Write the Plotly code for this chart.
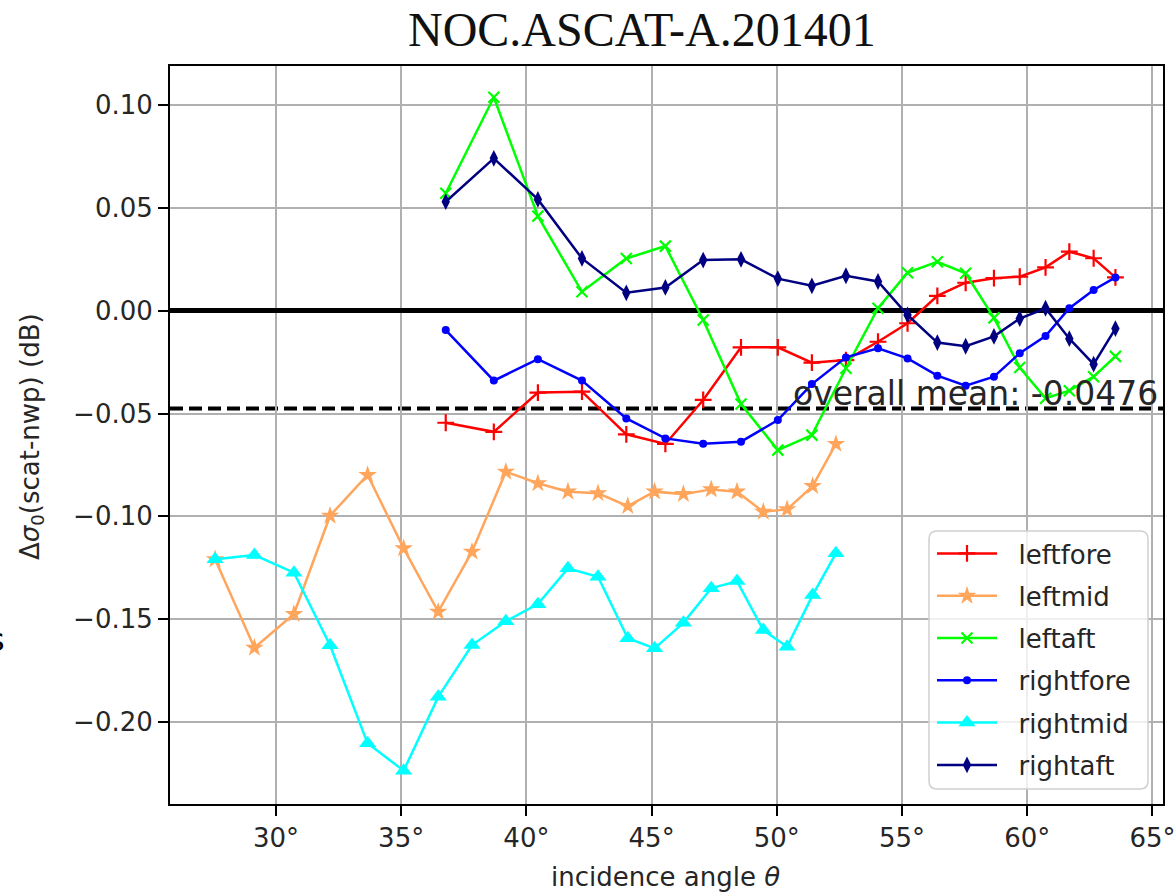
import plotly.graph_objects as go

# ---- data ----
angle_left = [27.57, 29.14, 30.72, 32.16, 33.66, 35.10, 36.48, 37.83, 39.18, 40.46, 41.66,
              42.86, 44.05, 45.12, 46.27, 47.38, 48.41, 49.46, 50.41, 51.43, 52.36]
angle_right = [36.78, 38.70, 40.46, 42.22, 43.99, 45.55, 47.06, 48.57, 50.04, 51.40, 52.76,
               54.04, 55.22, 56.41, 57.54, 58.67, 59.70, 60.73, 61.68, 62.65, 63.52]

leftfore = [-0.0545, -0.0589, -0.0398, -0.0394, -0.0601, -0.0648, -0.0434, -0.0178, -0.0178,
            -0.0253, -0.0240, -0.0151, -0.0061, 0.0072, 0.0136, 0.0158, 0.0165, 0.0211,
            0.0287, 0.0255, 0.0162]
leftmid = [-0.1209, -0.1639, -0.1475, -0.0997, -0.0799, -0.1156, -0.1464, -0.1172, -0.0783,
           -0.0839, -0.0880, -0.0888, -0.0950, -0.0880, -0.0892, -0.0869, -0.0880, -0.0978,
           -0.0966, -0.0853, -0.0648]
leftaft = [0.0571, 0.1038, 0.0460, 0.0092, 0.0254, 0.0314, -0.0045, -0.0454, -0.0678,
           -0.0605, -0.0280, 0.0012, 0.0185, 0.0238, 0.0182, -0.0035, -0.0276, -0.0426,
           -0.0389, -0.0321, -0.0222]
rightfore = [-0.0094, -0.0340, -0.0236, -0.0340, -0.0524, -0.0621, -0.0647, -0.0637, -0.0532,
             -0.0357, -0.0227, -0.0183, -0.0232, -0.0316, -0.0365, -0.0321, -0.0207, -0.0123,
             0.0012, 0.0101, 0.0162]
rightmid = [-0.1209, -0.1188, -0.1274, -0.1627, -0.2104, -0.2237, -0.1878, -0.1626, -0.1510,
            -0.1427, -0.1253, -0.1294, -0.1593, -0.1642, -0.1518, -0.1350, -0.1315, -0.1553,
            -0.1634, -0.1383, -0.1180]
rightaft = [0.0530, 0.0741, 0.0541, 0.0254, 0.0087, 0.0113, 0.0246, 0.0250, 0.0156, 0.0121,
            0.0170, 0.0142, -0.0021, -0.0155, -0.0173, -0.0125, -0.0038, 0.0012, -0.0136,
            -0.0260, -0.0087]

overall_mean = -0.0476

x_tickvals = [30, 35, 40, 45, 50, 55, 60, 65]
x_ticktext = [f"{v}°" for v in x_tickvals]
y_tickvals = [0.10, 0.05, 0.00, -0.05, -0.10, -0.15, -0.20]
y_ticktext = ["0.10", "0.05", "0.00", "\u22120.05", "\u22120.10", "\u22120.15", "\u22120.20"]

X_RANGE = [25.77, 65.42]
Y_RANGE = [-0.2399, 0.1190]

series = [
    ("leftfore", angle_right, leftfore, "#ff0000", "cross-thin", 12, 2.2),
    ("leftmid", angle_left, leftmid, "#ffa55c", "star", 14, 0),
    ("leftaft", angle_right, leftaft, "#00ff00", "x-thin", 11, 2.2),
    ("rightfore", angle_right, rightfore, "#0000ff", "circle", 8, 0),
    ("rightmid", angle_left, rightmid, "#00ffff", "triangle-up", 15, 0),
    ("rightaft", angle_right, rightaft, "#000080", "diamond-tall", 12, 0),
]

FONT = "DejaVu Sans"
TXT = "#262626"

# plot-area geometry in page pixels (used only to place chrome items)
L, R, T, B = 170, 1163, 66, 804
PW, PH = R - L, B - T


def px_x(p):
    return (p - L) / PW


def px_y(p):
    return (B - p) / PH


fig = go.Figure()
for i, (name, xs, ys, col, sym, size, lw) in enumerate(series):
    marker = dict(symbol=sym, size=size, color=col, line=dict(color=col, width=lw))
    fig.add_trace(go.Scatter(
        x=xs, y=ys, name="\u00a0\u00a0" + name, mode="lines+markers",
        line=dict(color=col, width=2.5), marker=marker,
        legendgroup=f"g{i}",
    ))

# overall-mean line
fig.add_shape(type="line", xref="x", yref="y", x0=X_RANGE[0], x1=X_RANGE[1],
              y0=overall_mean, y1=overall_mean,
              line=dict(color="black", width=4, dash="13px,6px"), layer="below")

fig.add_annotation(text=f"overall mean: {overall_mean:.4f}", xref="paper", yref="y",
                   x=px_x(1160), y=overall_mean, xanchor="right", yanchor="bottom", showarrow=False,
                   yshift=-6, font=dict(family=FONT, size=33, color=TXT))

# legend frame (rounded, semi-transparent)
lx0, lx1, ly0, ly1 = px_x(929), px_x(1148), px_y(789), px_y(531)
rx, ry = 8 / PW, 8 / PH
path = (f"M{lx0+rx},{ly0} L{lx1-rx},{ly0} Q{lx1},{ly0} {lx1},{ly0+ry} "
        f"L{lx1},{ly1-ry} Q{lx1},{ly1} {lx1-rx},{ly1} L{lx0+rx},{ly1} "
        f"Q{lx0},{ly1} {lx0},{ly1-ry} L{lx0},{ly0+ry} Q{lx0},{ly0} {lx0+rx},{ly0} Z")
fig.add_shape(type="path", xref="paper", yref="paper", path=path,
              fillcolor="rgba(255,255,255,0.8)", line=dict(color="#d0d0d0", width=1.5),
              layer="above")

# title and axis labels
fig.add_annotation(text="NOC.ASCAT-A.201401", xref="paper", yref="paper",
                   x=px_x(642), y=px_y(30), xanchor="center", yanchor="middle",
                   showarrow=False, font=dict(family="Liberation Serif", size=48, color="#111111"))
fig.add_annotation(text="incidence angle <i>θ</i>", xref="paper", yref="paper",
                   x=px_x(665), y=px_y(877), xanchor="center", yanchor="middle",
                   showarrow=False, font=dict(family=FONT, size=26, color=TXT))
fig.add_annotation(text="Δ<i>σ</i><sub>0</sub>(scat-nwp) (dB)", xref="paper", yref="paper",
                   x=px_x(31), y=px_y(437), xanchor="center", yanchor="middle",
                   textangle=-90, showarrow=False, font=dict(family=FONT, size=26, color=TXT))
# cut-off character at the far left edge of the picture
fig.add_annotation(text="s", xref="paper", yref="paper",
                   x=px_x(-4), y=px_y(640), xanchor="center", yanchor="middle",
                   showarrow=False, font=dict(family=FONT, size=32, color="black"))

axis_common = dict(showline=True, mirror=True, linecolor="black", linewidth=2,
                   showgrid=True, gridcolor="#b0b0b0", gridwidth=1.6,
                   ticks="outside", ticklen=10, tickwidth=1.8, tickcolor="black",
                   tickfont=dict(family=FONT, size=26, color=TXT), automargin=False,
                   ticklabeloverflow="allow")

fig.update_layout(
    width=1175, height=892,
    margin=dict(l=L, r=1175 - R, t=T, b=892 - B, autoexpand=False),
    paper_bgcolor="white", plot_bgcolor="white",
    showlegend=True,
    legend=dict(x=px_x(932), y=px_y(530), xanchor="left", yanchor="top",
                bgcolor="rgba(0,0,0,0)", borderwidth=0,
                font=dict(family=FONT, size=26, color=TXT), tracegroupgap=5.5, itemwidth=60),
    xaxis=dict(range=X_RANGE, tickvals=x_tickvals, ticktext=x_ticktext, zeroline=False,
               **axis_common),
    yaxis=dict(range=Y_RANGE, tickvals=y_tickvals, ticktext=y_ticktext, zeroline=True,
               zerolinecolor="black", zerolinewidth=4.5, **axis_common),
)

fig.write_html("out.html")
